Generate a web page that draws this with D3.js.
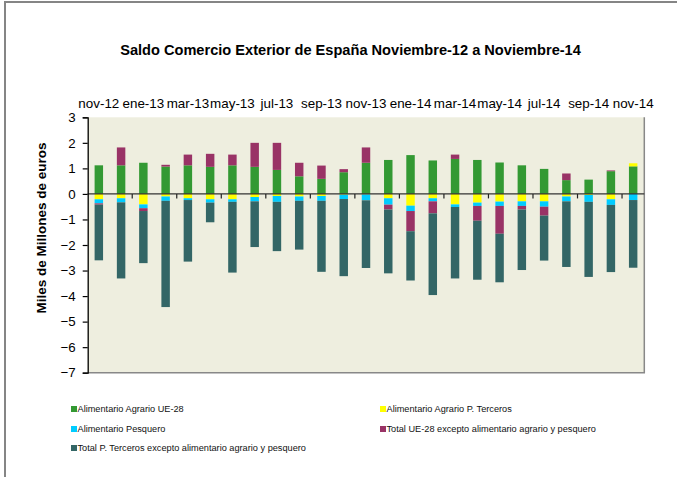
<!DOCTYPE html>
<html>
<head>
<meta charset="utf-8">
<script src="https://cdn.jsdelivr.net/npm/d3@7"></script>
<style>
  html, body { margin: 0; padding: 0; background: #ffffff; }
  svg { display: block; font-family: "Liberation Sans", Arial, sans-serif; }
</style>
</head>
<body>
<svg id="chart" width="677" height="477"></svg>
<script>
// ---- Data (miles de millones de euros) ----
const categories = ["nov-12","dic-12","ene-13","feb-13","mar-13","abr-13","may-13","jun-13","jul-13","ago-13","sep-13","oct-13","nov-13","dic-13","ene-14","feb-14","mar-14","abr-14","may-14","jun-14","jul-14","ago-14","sep-14","oct-14","nov-14"];
const tickLabels = ["nov-12","ene-13","mar-13","may-13","jul-13","sep-13","nov-13","ene-14","mar-14","may-14","jul-14","sep-14","nov-14"];
const yTicks = [3,2,1,0,-1,-2,-3,-4,-5,-6,-7];

const agrarioUE      = [1.12,1.12,1.22,1.07,1.12,1.06,1.12,1.06,0.94,0.69,0.59,0.85,1.22,1.33,1.52,1.31,1.37,1.33,1.23,1.12,0.98,0.54,0.56,0.89,1.08];
const agrarioTerceros= [-0.21,-0.17,-0.41,-0.10,-0.17,-0.21,-0.21,-0.12,-0.08,-0.10,-0.08,-0.03,-0.02,-0.17,-0.46,-0.17,-0.41,-0.34,-0.30,-0.29,-0.29,-0.10,-0.04,-0.21,0.12];
const pesquero       = [-0.16,-0.16,-0.15,-0.17,-0.07,-0.13,-0.10,-0.17,-0.23,-0.17,-0.19,-0.17,-0.23,-0.25,-0.21,-0.12,-0.10,-0.13,-0.17,-0.18,-0.21,-0.19,-0.27,-0.22,-0.24];
const totalUE        = [-0.05,0.70,-0.11,0.07,0.42,0.51,0.42,0.94,1.06,0.53,0.52,0.12,0.60,-0.19,-0.79,-0.47,0.17,-0.58,-1.09,-0.14,-0.35,0.26,0.00,0.03,0.00];
const totalTerceros  = [-2.18,-2.98,-2.04,-4.16,-2.41,-0.77,-2.77,-1.79,-1.93,-1.91,-2.78,-3.02,-2.65,-2.50,-1.93,-3.20,-2.80,-2.31,-1.90,-2.37,-1.76,-2.57,-2.94,-2.63,-2.65];

const seriesNames = ["Alimentario Agrario UE-28","Alimentario Agrario P. Terceros","Alimentario Pesquero","Total UE-28  excepto alimentario  agrario  y pesquero","Total P. Terceros  excepto alimentario  agrario  y pesquero"];
const seriesColors = ["#339933","#FFFF00","#00CCFF","#993366","#336666"];
const seriesValues = [agrarioUE, agrarioTerceros, pesquero, totalUE, totalTerceros];

const title = "Saldo Comercio Exterior de España Noviembre-12 a Noviembre-14";
const yTitle = "Miles de Millones de euros";

// ---- Layout ----
const svg = d3.select("#chart");
const plot = {left: 87.7, right: 644.3, top: 117.3, bottom: 372.7};

// outer frame (top & left visible)
svg.append("path").attr("d", "M5,477 L5,2 L677,2").attr("fill","none").attr("stroke","#858585").attr("stroke-width",2);

// rows for stacking
const keys = d3.range(seriesNames.length);
const rows = categories.map((c, i) => {
  const r = {cat: c};
  keys.forEach(k => r[k] = seriesValues[k][i]);
  return r;
});
const stacked = d3.stack().keys(keys).offset(d3.stackOffsetDiverging)(rows);

const pIn = 0.62;
const x = d3.scaleBand().domain(categories).range([plot.left, plot.right]).paddingInner(pIn).paddingOuter(pIn/2);
const y = d3.scaleLinear().domain([-7, 3]).range([plot.bottom, plot.top]);

// plot background
svg.append("rect").attr("x", plot.left).attr("y", plot.top)
  .attr("width", plot.right - plot.left).attr("height", plot.bottom - plot.top)
  .attr("fill", "#EEEEDF");
// plot border right & bottom
svg.append("path").attr("d", `M${plot.left},${plot.bottom} L${plot.right},${plot.bottom} L${plot.right},${plot.top}`)
  .attr("fill","none").attr("stroke","#888888").attr("stroke-width",1.5);

// bars
svg.append("g").selectAll("g").data(stacked).join("g")
  .attr("fill", d => seriesColors[d.key])
  .selectAll("rect").data(d => d).join("rect")
  .attr("x", d => x(d.data.cat))
  .attr("width", x.bandwidth())
  .attr("y", d => y(Math.max(d[0], d[1])))
  .attr("height", d => Math.abs(y(d[0]) - y(d[1])));

// zero line with category ticks
const y0 = y(0);
svg.append("line").attr("x1", plot.left).attr("x2", plot.right).attr("y1", y0).attr("y2", y0)
  .attr("stroke", "#333333").attr("stroke-width", 1.3);
const step = x.step();
const tickIdx = d3.range(2, categories.length, 2);
svg.append("g").selectAll("line").data(tickIdx).join("line")
  .attr("x1", k => x(categories[k]) - pIn * step / 2)
  .attr("x2", k => x(categories[k]) - pIn * step / 2)
  .attr("y1", y0).attr("y2", y0 + 4.5)
  .attr("stroke", "#222").attr("stroke-width", 1.2);

// x labels at top
const xAxis = d3.axisTop(x).tickValues(tickLabels).tickSize(0).tickPadding(9);
const gx = svg.append("g").attr("transform", `translate(0,${plot.top})`).call(xAxis);
gx.select(".domain").remove();
gx.selectAll("text").attr("font-size", 13.4).attr("fill", "#000").attr("font-family", "Liberation Sans, Arial, sans-serif");

// y axis
const yAxis = d3.axisLeft(y).tickValues(yTicks).tickSize(5).tickPadding(7).tickFormat(d3.format("d"));
const gy = svg.append("g").attr("transform", `translate(${plot.left},0)`).call(yAxis);
gy.select(".domain").attr("stroke", "#000").attr("stroke-width", 1.3);
gy.selectAll(".tick line").attr("stroke", "#000").attr("stroke-width", 1.2);
gy.selectAll("text").attr("font-size", 13.3).attr("fill", "#000").attr("font-family", "Liberation Sans, Arial, sans-serif");

// title
svg.append("text").attr("x", 350.5).attr("y", 55).attr("text-anchor", "middle")
  .attr("font-size", 14.6).attr("font-weight", "bold").text(title);

// y title
svg.append("text").attr("transform", "translate(45.5,228) rotate(-90)").attr("text-anchor", "middle")
  .attr("font-size", 13.5).attr("font-weight", "bold").text(yTitle);

// legend
const legendPos = [[71,409],[380,409],[71,429],[380,429],[71,448]];
const lg = svg.append("g").selectAll("g").data(keys).join("g")
  .attr("transform", k => `translate(${legendPos[k][0]},${legendPos[k][1]})`);
lg.append("rect").attr("x", 0).attr("y", -3).attr("width", 6).attr("height", 6).attr("fill", k => seriesColors[k]);
lg.append("text").attr("x", 6.5).attr("y", 3.2).attr("font-size", 9.2).attr("fill", "#111").text(k => seriesNames[k]);
</script>
</body>
</html>
